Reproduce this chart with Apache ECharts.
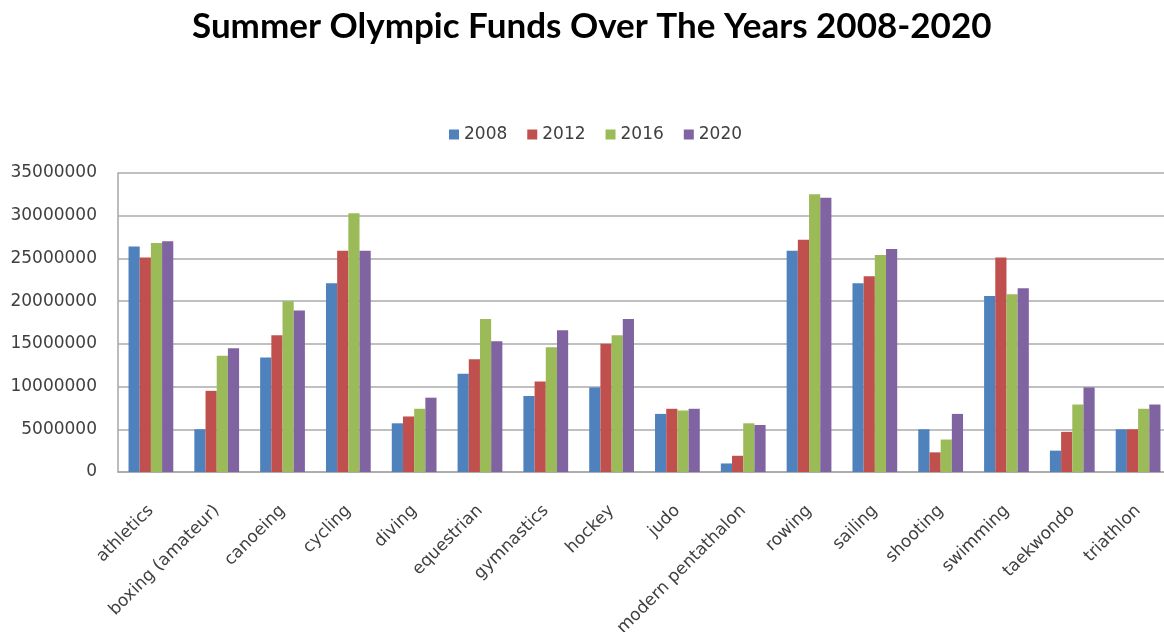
<!DOCTYPE html>
<html>
<head>
<meta charset="utf-8">
<script src="https://cdn.jsdelivr.net/npm/echarts@6/dist/echarts.min.js"></script>
<style>
html,body{margin:0;padding:0;background:#fff;}
#chart{width:1164px;height:632px;}
</style>
</head>
<body>
<div id="chart"></div>
<script>
var categories = ['athletics','boxing (amateur)','canoeing','cycling','diving','equestrian','gymnastics','hockey','judo','modern pentathalon','rowing','sailing','shooting','swimming','taekwondo','triathlon'];
var years = ['2008','2012','2016','2020'];
var funds2008 = [26400000, 5000000, 13400000, 22100000, 5700000, 11500000, 8900000, 9900000, 6800000, 1000000, 25900000, 22100000, 5000000, 20600000, 2500000, 5000000];
var funds2012 = [25100000, 9500000, 16000000, 25900000, 6500000, 13200000, 10600000, 15000000, 7400000, 1900000, 27200000, 22900000, 2300000, 25100000, 4700000, 5000000];
var funds2016 = [26800000, 13600000, 20000000, 30300000, 7400000, 17900000, 14600000, 16000000, 7200000, 5700000, 32500000, 25400000, 3800000, 20800000, 7900000, 7400000];
var funds2020 = [27000000, 14500000, 18900000, 25900000, 8700000, 15300000, 16600000, 17900000, 7400000, 5500000, 32100000, 26100000, 6800000, 21500000, 9900000, 7900000];
var colors = ['#4F81BD','#C0504D','#9BBB59','#8064A2'];
var seriesData = [funds2008, funds2012, funds2016, funds2020];

var chart = echarts.init(document.getElementById('chart'));
var axisFont = 'DejaVu Sans';
chart.setOption({
  animation: false,
  color: colors,
  title: {
    text: 'Summer Olympic Funds Over The Years 2008-2020',
    left: 187,
    top: 4,
    textStyle: { fontFamily: 'Lato', fontWeight: 'bold', fontSize: 35, color: '#000' }
  },
  legend: {
    data: years,
    top: 121,
    left: 444,
    itemWidth: 10,
    itemHeight: 10,
    itemGap: 20,
    icon: 'rect',
    textStyle: { fontFamily: axisFont, fontSize: 17, color: '#404040' }
  },
  grid: { left: 118, top: 173, width: 1053, height: 299, containLabel: false, outerBoundsMode: 'none' },
  xAxis: {
    type: 'category',
    data: categories,
    axisLine: { lineStyle: { color: '#A6A6A6', width: 1.5 } },
    axisTick: { show: false },
    axisLabel: { rotate: 45, interval: 0, margin: 36, fontFamily: axisFont, fontSize: 17, color: '#404040' }
  },
  yAxis: {
    type: 'value',
    min: 0,
    max: 35000000,
    interval: 5000000,
    axisLine: { show: true, lineStyle: { color: '#A6A6A6', width: 1.5 } },
    axisTick: { show: false },
    splitLine: { lineStyle: { color: '#ABABAB', width: 1.5 } },
    axisLabel: { margin: 21, fontFamily: axisFont, fontSize: 17, color: '#404040', formatter: function (v) { return String(v); } }
  },
  series: years.map(function (y, i) {
    return { name: y, type: 'bar', data: seriesData[i], barGap: '0%', barCategoryGap: '32%' };
  })
});
</script>
</body>
</html>
